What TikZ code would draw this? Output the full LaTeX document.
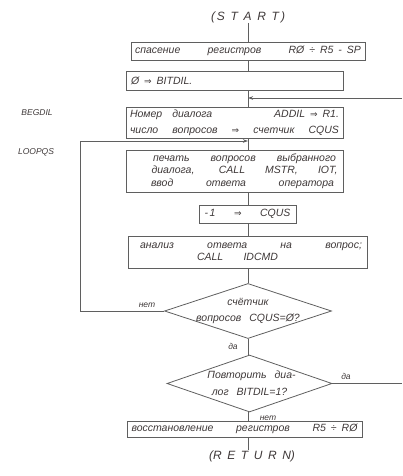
\documentclass[tikz,border=0pt]{standalone}
\usepackage{fontspec}
\setmainfont{Liberation Sans}
\newfontfamily\symf{DejaVu Sans}
\usetikzlibrary{shapes.geometric,arrows.meta}
\definecolor{ink}{RGB}{62,56,56}
\definecolor{wire}{RGB}{95,95,95}
\newcommand{\imp}{{\symf\upshape\fontsize{9}{9}\selectfont ⇒}}
\newcommand{\spl}[2][s]{\makebox[#2][#1]}
\newcommand{\gp}{\hspace{5pt}}
\begin{document}
\begin{tikzpicture}[x=1pt,y=-1pt,
  every node/.style={font=\fontsize{10.5}{12}\selectfont\itshape, text=ink},
  box/.style={draw=wire, line width=0.8pt, inner sep=0pt, align=center},
  dia/.style={diamond, draw=wire, line width=0.8pt, inner sep=0pt},
  ln/.style={draw=wire, line width=0.8pt},
  arr/.style={ln, -{Stealth[length=5pt,width=3.5pt]}},
  lbl/.style={font=\fontsize{8.5}{9}\selectfont\itshape, inner sep=0pt},
  term/.style={font=\fontsize{12}{12}\selectfont\itshape, inner sep=0pt}]
\useasboundingbox (0,0) rectangle (402,476);

% terminals
\node[term] (start) at (248,17) {(\,\spl{62pt}{S T A R T}\,)};
\node[term] (ret) at (252,456) {(\spl{78pt}{R E T U R N})};

% boxes
\node[box, minimum width=234pt, minimum height=18pt] (box1) at (248,51)
  {\spl[l]{226pt}{спасение\hfill регистров\hfill RØ\gp÷\gp R5\gp -\gp SP}};
\node[box, minimum width=217pt, minimum height=19pt] (box2) at (234.5,81)
  {\spl[l]{207pt}{Ø\gp\imp\gp BITDIL.}};
\node[box, minimum width=217pt, minimum height=31pt, font=\fontsize{10.5}{16}\selectfont\itshape] (box3) at (234.5,122.5)
  {\spl[l]{209pt}{Номер\hspace{10pt}диалога\hfill ADDIL\gp\imp\gp R1.}\\ \spl{209pt}{число вопросов \imp\ счетчик CQUS}};
\node[box, minimum width=217pt, minimum height=42pt, font=\fontsize{10.5}{12.5}\selectfont\itshape] (box4) at (234.5,171)
  {\hspace*{20pt}\spl{183pt}{печать вопросов выбранного}\\
   \hspace*{20pt}\spl{186pt}{диалога, CALL MSTR, IOT,}\\
   \hspace*{16pt}\spl{183pt}{ввод ответа оператора}};
\node[box, minimum width=97pt, minimum height=18pt] (box5) at (247.5,214)
  {\spl[l]{86pt}{-\,1\hfill\imp\hfill CQUS}};
\node[box, minimum width=239pt, minimum height=32pt, font=\fontsize{10.5}{12}\selectfont\itshape] (box6) at (247.5,252)
  {\hspace*{7pt}\spl{222pt}{анализ ответа на вопрос;}\\ \hspace*{-20pt}\spl{81pt}{CALL IDCMD}};
\node[box, minimum width=235pt, minimum height=16pt] (box7) at (244.5,429)
  {\spl[l]{226pt}{восстановление\hfill регистров\hfill R5\gp÷\gp RØ}};

% decisions
\node[dia, minimum width=167pt, minimum height=55pt] (d1) at (248,311) {};
\node[align=center, font=\fontsize{10.5}{16}\selectfont\itshape] (d1t) at (d1.center)
  {счётчик\\ вопросов\hspace{8pt}CQUS=Ø?};
\node[dia, minimum width=165pt, minimum height=57pt] (d2) at (249.5,383.5) {};
\node[align=center, font=\fontsize{10.5}{17}\selectfont\itshape] (d2t) at (d2.center)
  {\hspace*{4pt}Повторить\hspace{8pt}диа-\\ лог\hspace{8pt}BITDIL=1?};

% side labels
\node[lbl] (lb1) at (37,113) {BEGDIL};
\node[lbl] (lb2) at (36,152) {LOOPQS};

% coordinates
\coordinate (j1) at (248,98);
\coordinate (j2) at (248,141);
\coordinate (lc) at (80,141);
\coordinate (rin) at (402,98);
\coordinate (rout) at (402,383.5);

% flow lines
\draw[ln] (start.south) -- (box1.north -| start);
\draw[ln] (box1.south -| start) -- (box2.north -| start);
\draw[ln] (box2.south -| start) -- (box3.north -| start);
\draw[ln] (box3.south -| start) -- (box4.north -| start);
\draw[ln] (box4.south -| start) -- (box5.north -| start);
\draw[ln] (box5.south -| start) -- (box6.north -| start);
\draw[ln] (box6.south -| start) -- (d1.north);
\draw[ln] (d1.south) -- (d2.north -| d1);
\draw[ln] (d2.south -| d1) -- (box7.north -| d1);
\draw[ln] (box7.south -| d1) -- (ret.north -| d1);

\draw[arr] (rin) -- (j1);
\draw[arr] (d1.west) -| (lc) -- (j2);
\draw[ln] (d2.east) -- (rout);

% branch labels
\node[lbl] (n1) at (147,305) {нет};
\node[lbl] (y1) at (233,346) {да};
\node[lbl] (y2) at (346,376) {да};
\node[lbl] (n2) at (268,418) {нет};
\end{tikzpicture}
\end{document}
